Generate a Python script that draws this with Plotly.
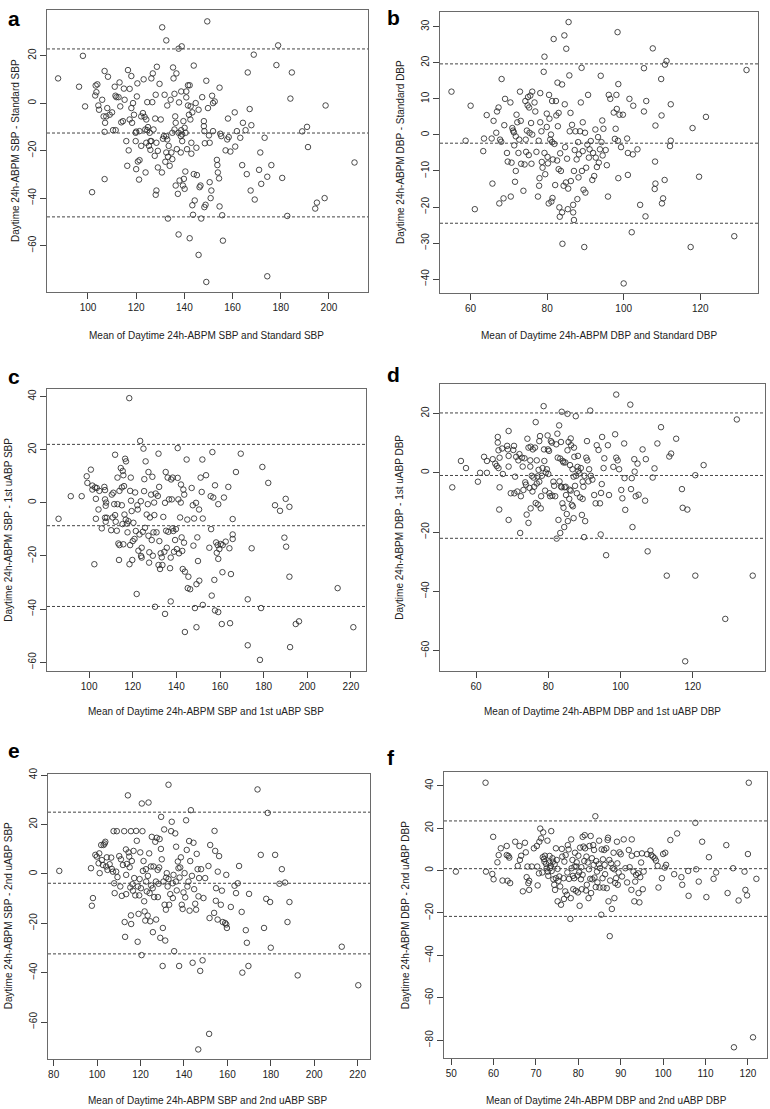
import plotly.graph_objects as go

W, H = 770, 1109

# ---------------- data ----------------
pts_a = [(87.6,10.4),(96.3,6.9),(97.9,19.9),(98.8,-1.4),(101.7,-37.5),(103.2,7.4),(103.9,7.9),(103.5,4.6),
(103.0,3.2),(104.3,-1),(104.6,-2.8),(105.9,1.4),(106.9,13.5),(108.3,11.1),(106.5,-5.6),(107.6,-5.6),(108,-2.1),
(107.1,-8.3),(106.9,-12.1),(106.9,-32),(109,-4.9),(110,-3.9),(111.1,6.9),(111.4,3.1),(111.8,2.5),(112.7,2.5),
(113.1,8.7),(113.4,-1.4),(110.4,-11.4),(111.5,-11.4),(113.8,-8.1),(114.5,-7.6),(114.9,6.1),(115.2,1.4),(115.9,-16),
(116.6,13.9),(116.9,-19.9),(117.3,6),(118,11.4),(116.3,-26.4),(117.3,-6.9),(118.3,-8.3),(118,-2.1),(118.7,0),
(119.1,-4.9),(119.8,-12.5),(119.8,-16),(120,-27.8),(120.3,2.8),(120.5,8.3),(120.7,-24.6),(121.2,-32.2),(121.4,-24),
(122.1,-5.6),(122.8,-4.2),(123.1,10),(123.5,-5.8),(123.8,-11.1),(124.2,-16.7),(123.9,-29.2),(124.6,0.4),(124.9,-10.1),
(125.3,-18),(125.6,-12.5),(125.9,-19.7),(126.3,-16),(126.7,0.4),(126.9,12.5),(127.2,-11.1),(127.7,-22.2),(127.9,-6.5),
(128.1,3.5),(128.4,-16.7),(128.4,-36.8),(128.1,-38.6),(128.6,15.3),(129,-20.1),(129,-27.1),(129.7,8.1),(130.2,-6.9),
(130.7,-29.2),(130.8,31.9),(131.1,-15),(131.5,-13.9),(131.8,3.5),(132.1,-24.7),(132.5,26.4),(132.5,-13.9),(132.9,-1),
(132.9,-15.3),(133.2,-48.6),(133.5,-18),(133.9,-26.4),(134.3,1.4),(134.6,-20.8),(135,-23.6),(135.3,15),(135.5,10.4),
(135.9,3.9),(136.2,-5.6),(136.4,-8.3),(136.4,-34.7),(136.7,12.5),(136.9,-19.4),(137.3,-38.2),(137.6,22.9),(137.6,-12.5),
(137.6,-55.3),(137.8,0.3),(138,-32.6),(138.5,-13.9),(138.5,-20.8),(138.7,4.9),(138.9,23.9),(139.1,-16),(139.4,-34.7),
(139.6,-7.6),(139.8,-31.9),(140.1,-36.1),(140.4,-28.8),(140.5,-12.5),(140.8,4.9),(140.8,2.4),(141.1,-19.4),(141.5,7.5),
(141.5,-1),(141.9,-4.9),(142.2,7.5),(142.2,-56.9),(142.5,-6.9),(142.9,-21.3),(142.9,-16.7),(143.3,-43),(143.6,-47),
(143.9,15.8),(143.9,-29.9),(144.3,-41),(144.7,0),(145,-18.8),(145.2,-30.3),(145.9,-63.9),(146.3,-35.4),(146.7,-34.7),
(147,-48.6),(147.4,2.5),(148.1,-7.6),(148.1,-9.7),(148.3,-11.8),(148.3,-43.8),(148.5,-16.9),(148.8,-42.8),(149.1,-75.3),
(149.1,9.4),(149.5,34.4),(149.8,-2.1),(150.2,-13.6),(150.5,-16.7),(150.5,-33.3),(150.9,-40),(151.2,-36.8),(151.5,3.1),
(151.9,0),(151.9,-11.8),(152.6,0.7),(153.5,-23.9),(153.7,-26.1),(153.9,-29.2),(154.4,-31.7),(154.6,6.5),(154.6,-43.5),
(154.9,-12.9),(155.3,-13.9),(155.7,-47.2),(156,-57.9),(157.1,-19.9),(157.8,-15.3),(158.1,-6.5),(158.4,-14.3),
(159.1,-20.4),(160.9,-3.9),(161.1,-18.3),(161.8,-11.8),(163.2,-14.6),(164,-26.1),(164.3,-8.3),(165.4,-11.4),
(165.9,-29.9),(166.3,12.9),(167.1,-2.5),(167.5,-36.8),(167.8,-9.3),(168.8,20.4),(169.2,-40.6),(171,-28.1),(171.5,-20.8),
(171.9,-34),(173.3,-14.6),(174.4,-31),(174.4,-72.9),(176.1,-26.1),(178.2,16),(178.9,24.3),(180.6,-31.5),(182.7,-47.5),
(184,1.9),(184.6,12.9),(188.9,-11.9),(190.9,-10),(191.3,-18.5),(194.3,-44.4),(195,-41.9),(198.2,-40),(198.6,-1),
(210.6,-25),(126.3,10.4),(124.6,-11.4),(121.4,-11.8),(120,-12),(122.1,-18),(124.2,-6.9),(125.9,-16),(135,-12.5),
(135.9,-11.1),(138.7,-11.4),(139.1,-13.2),(140.1,-10.4),(142.6,-1.4),(143.3,-3.9),(145.9,-2.8),(132.5,-20.8),(133.2,-22.6)]

pts_b = [(55,12),(58.7,-1.6),(60,8.1),(61.1,-20.6),(63.3,-4.5),(63.5,-1),(64.2,5.5),(65.5,-1),(65.7,-13.5),(66,3.9),
(66.7,0.6),(66.9,6.5),(67.3,7.6),(67.5,-19),(67.7,-1.3),(68,-1.9),(68.1,15.5),(68.6,-17.6),(68.8,2.7),(69,10),(69.5,-5),
(69.7,-7.4),(70.4,9),(70.5,-17.1),(70.7,-7.7),(70.9,1.9),(71.1,1.2),(71.3,0.7),(71.4,-2.9),(71.6,-13),(71.8,-0.4),
(71.8,-10),(72,5.6),(72.2,3.5),(72.5,-5),(72.7,-1.3),(72.9,12),(73.1,3.9),(73.2,-8),(73.8,-15.5),(74.1,-8.2),(74.3,9.4),
(74.4,-1.3),(74.5,-4.7),(74.7,1.2),(74.9,8.2),(75,10.5),(75.2,-5.6),(75.3,7.6),(75.4,0.6),(75.6,10.9),(75.8,3.3),
(75.9,-8),(76.1,0.1),(76.1,12),(76.7,9),(76.9,6.5),(77.2,-4.7),(77.6,-17.1),(77.8,-1.6),(77.9,-14.1),(78,-12),(78.2,3.5),
(78.2,11.6),(78.5,1),(78.6,-7.5),(78.8,-9.1),(79.1,17.5),(79.3,21.7),(79.3,-5),(79.5,-10.9),(79.9,5.9),(79.9,2.2),
(80.1,-6.1),(80.2,-7.9),(80.4,-19),(80.5,11.1),(80.6,4.5),(80.8,-1.3),(81,0.1),(81.1,-18.5),(81.3,-2),(81.3,9.4),
(81.4,-17.5),(81.5,-6.8),(81.7,26.6),(81.9,-2.5),(82.1,-13.9),(82.3,9.4),(82.4,5.4),(82.6,-7.1),(82.7,14.5),(82.8,2.4),
(83,-9.5),(83,6.1),(83.2,-20.1),(83.3,-22.7),(83.4,-5.1),(83.6,-10),(83.9,14),(83.9,-21.5),(84,-30.2),(84.3,-14.1),
(84.5,27.6),(84.6,8.5),(84.7,-3.4),(84.9,-13.2),(85,23.9),(85.2,-6.6),(85.4,-20.6),(85.5,-14.9),(85.6,31.3),(85.8,16.5),
(85.9,1),(86.1,6.1),(86.2,-12.8),(86.5,2.8),(86.8,-19.4),(86.8,-21.5),(87,-23.6),(87,-10),(87.2,-4.2),(87.4,1),
(87.7,-6.8),(87.9,-17.8),(88.1,-2),(88.2,-11.8),(88.3,-5.4),(88.6,1),(88.8,9),(89,18.6),(89.1,-10),(89.3,-4.5),
(89.3,3.5),(89.5,-15.2),(89.7,-31.1),(89.9,0.6),(90,-16),(90.2,-9.1),(90.5,-2.7),(90.7,11.1),(90.9,-6.3),(91.1,-4),
(91.4,-1.7),(91.8,-12.5),(92,-5),(92.3,-11.4),(92.6,1.5),(92.7,-6.3),(93,-8.9),(93.3,-0.6),(93.5,-7.7),(93.8,-4),
(94,16.4),(94.2,-2),(94.4,4),(94.5,-5.7),(94.7,1.7),(95.3,-4.2),(95.6,-8.4),(95.9,-17.1),(96.1,11.1),(96.5,10),
(97.4,6.2),(97.7,-1.1),(97.9,1.7),(98.1,11.1),(98.2,7.2),(98.4,28.5),(98.5,-1.6),(98.6,-12),(98.6,14.1),(98.9,5.6),
(99.3,-3.4),(99.8,5.6),(100,-41.2),(100.9,-1),(101.1,-5),(101.1,-11.1),(101.5,10),(102.1,-27),(102.4,-5.4),(102.5,8.1),
(103.6,-4),(104.3,-19.4),(105.3,6.5),(105.3,18.5),(105.7,-22.6),(105.9,9.4),(107.6,24),(108.1,-15),(108.2,-7.4),
(108.3,2.6),(108.3,-13.5),(109.8,15.5),(109.9,5.4),(110,-19),(110.3,-17.6),(110.7,-12.5),(110.8,19.5),(111.2,20.5),
(112.1,-3.1),(112.3,-1.6),(112.3,8.5),(117.5,-31.1),(118,1.9),(119.7,-11.6),(121.5,5),(128.9,-28.1),(132.1,18)]

pts_c = [(86,-6),(91.6,2.5),(96.6,2.5),(98.9,10),(99.2,7.5),(100.8,12.5),(101.5,6.5),(101.5,5),(102.4,-23.1),(102.7,5.8),
(103.1,1.5),(103.1,-6),(103.5,5.6),(104.3,-2.5),(104.7,4.5),(105.8,-9.6),(107,6),(107.3,1.3),(107.3,-5.6),(107.3,4.8),
(107.6,-1.1),(107.6,-7.1),(107.8,0.1),(108.1,-5.6),(110.1,-10.3),(110.4,3.1),(110.8,-5.5),(111.1,3.8),(111.5,-0.5),
(111.9,18.1),(111.9,-4.6),(112.2,-7.1),(112.7,-10.5),(113,-0.5),(113,9.5),(113.4,-15.3),(113.7,-21.5),(113.9,4.5),
(113.9,-15.9),(114.5,13.1),(115,-0.9),(115,5.8),(115.3,-8),(115.4,12),(115.7,-15.6),(115.7,10.4),(116,6.3),(116.2,-4.4),
(116.5,16.6),(116.9,15.6),(116.8,-6.3),(117.3,-7.8),(117.6,-11.1),(118,-6.9),(118.4,39.4),(118.5,-23.1),(118.8,4.5),
(118.8,-15.9),(119.1,9.5),(119.2,0.8),(119.5,-3.1),(119.8,-21.5),(120,-14.4),(120.3,-7.5),(120.8,-13.6),(121.1,3.9),
(121.4,-10.6),(121.8,-34.3),(122.1,-0.9),(122.3,-2.5),(122.6,-18),(123.1,-11.9),(123.4,23.3),(123.7,0.6),(123.8,-20),
(124.1,-16.9),(124.1,-20.6),(124.6,-10.9),(124.9,20.4),(125.2,4.4),(125.3,8.9),(125.6,-9.4),(125.9,15.6),(126.4,-4.4),
(126.9,-0.5),(127.2,11.6),(127.2,-12.4),(127.5,-22.5),(127.6,-18.6),(127.9,-5.5),(128.4,3.1),(128.7,-14),(129,9.8),
(129.2,-19.9),(129.5,-11.1),(129.8,0.1),(129.9,-4.6),(130.2,-39.1),(130.5,3.5),(130.9,-11.1),(131.5,2.6),(131.8,18.5),
(131.8,-23.4),(132.1,6),(132.2,-14.4),(132.5,-24.9),(132.8,-19),(133.3,-20.5),(133.6,-23.4),(134,-5.3),(134.5,-18.4),
(134.8,0),(134.8,-41.8),(135.1,11.6),(135.3,-10.5),(135.6,-16.9),(136,9.5),(136.3,-10.9),(136.6,1.3),(137.1,-24.6),
(137.4,-20.6),(137.4,-37.1),(137.6,8.8),(137.9,1.3),(138.2,-9.6),(138.3,9.5),(138.6,-10.6),(138.9,-18.4),(139.4,-14),
(139.8,-9.9),(140.2,-17.4),(140.6,20.6),(140.6,9.4),(140.9,1.3),(141.2,-19),(141.7,-5.5),(142,0.1),(142.1,6.9),
(142.4,-13),(142.7,-18.1),(142.9,-24.9),(143.2,5),(143.5,-15),(143.6,3.1),(143.9,-25.9),(143.9,-48.6),(144.7,16.3),
(145,-6.3),(145.2,-32.1),(145.5,-27.8),(146.3,-32.5),(147,5.6),(147.5,-0.9),(147.8,-16.1),(148.1,-5.9),(148.5,-39.6),
(149,0),(149.2,-46.8),(149.2,-30.6),(149.6,-13),(149.9,-21.9),(150.4,-2.5),(150.5,-29.3),(151.1,9.5),(151.6,4.1),
(151.9,16.3),(152.1,-5.9),(152.1,-38.4),(153.6,10.4),(155.1,-16.9),(155.7,2.5),(155.9,-9.9),(156.2,-34.9),(156.5,19.1),
(156.9,2),(157.4,-29),(157.7,6.6),(157.7,-40.5),(158.2,-14.9),(158.5,-18.8),(158.9,-15.9),(159.2,-0.5),(159.2,-21.1),
(159.2,-41.1),(159.7,-17.4),(160.3,-15.5),(160.8,-45.6),(161.1,-26.1),(161.2,-15.9),(161.8,2),(162.6,-14.6),(163.8,6),
(164.3,-17.1),(164.6,-45.3),(165,-26.8),(165.8,-11.9),(165.8,-6.1),(165.8,-13.6),(167.3,11.6),(169.5,18.5),(172.7,-36.3),
(172.7,-53.6),(174.5,-17.1),(178.8,-39.6),(178.3,-59.1),(179.4,13.5),(182.1,7.5),(185.2,-0.9),(187.5,-3),(189.5,-13.1),
(190.1,1.5),(190.3,-16.5),(191.8,-27.8),(191.8,-1.5),(192.1,-54.3),(194.7,-45.6),(196.2,-44.6),(213.9,-32.1),(221.1,-46.8)]

pts_d = [(53.4,-4.9),(55.8,4),(57.2,1.6),(60.5,-3),(61.1,0),(62.2,5.4),(63,4),(63,0),(64.6,4.6),(65.3,3.1),(65.7,2.3),
(66,12.1),(66,10.2),(66.2,7.6),(66.2,1.6),(66.4,-12.4),(66.5,5.1),(66.5,-4.9),(67.2,8.2),(67.4,-0.4),(68.6,9.1),(68.8,7.9),
(69,14.1),(69,5.7),(69,2.1),(69,-15.9),(69.6,-6.9),(70.3,7.7),(70.5,9.1),(70.6,-6.9),(70.8,-1.3),(71.1,5.4),(71.4,-6.3),
(71.7,4.2),(72,6.3),(72.2,-20.3),(72.4,-7.9),(72.7,5.1),(72.9,2.1),(73.1,-5.8),(73.4,4.9),(73.6,-3.2),(73.8,-4),(74,-14.1),
(74.2,11.5),(74.5,8.5),(74.5,-16.9),(74.8,-5.1),(75,4.2),(75,2.1),(75.1,-12),(75.1,8.8),(75.4,-1),(75.6,-6.3),(75.7,7.9),
(75.9,-1.6),(76.1,-4.7),(76.3,8.5),(76.5,17.1),(76.5,-10.2),(76.8,-3.6),(76.8,4.2),(77,-1.2),(77.1,-10.7),(77.3,1),
(77.5,-3),(77.5,10.7),(77.7,12.4),(77.9,-12),(78,-7.9),(78.2,-1),(78.4,1.6),(78.7,22.5),(78.8,7.9),(78.9,4),(79.1,-6),
(79.3,0.1),(79.6,1.2),(79.8,12.6),(79.9,7.9),(80,-0.4),(80.2,7.4),(80.3,-6.9),(80.5,-7.9),(80.7,10.7),(81,10.2),(81.1,-7.7),
(81.4,-3),(81.6,-4.4),(81.9,-7.9),(82.2,9.6),(82.3,-22.2),(82.5,13.2),(82.6,5.1),(82.8,-15.9),(83,16),(83.1,-2.9),(83.3,4.8),
(83.3,-20.3),(83.5,-4.6),(83.5,10.4),(83.7,20.6),(83.7,-4.9),(83.9,-10.3),(84,4),(84.2,-11.8),(84.2,3.5),(84.4,-18.3),
(84.5,-4.9),(84.7,3.5),(84.8,-4.7),(84.9,-7.5),(85.1,-13.9),(85.3,7.6),(85.3,19.9),(85.4,-16.3),(85.6,10.4),(85.8,-8.8),
(85.9,-5.7),(86,2.6),(86.2,11.6),(86.2,-6),(86.3,9.3),(86.5,-10.8),(86.7,1.2),(86.8,-11.3),(87,-15.3),(87,-1.3),(87.1,8.5),
(87.2,5.4),(87.4,-4.4),(87.6,19.1),(87.7,-1),(87.9,-6.9),(88.1,2),(88.2,5.7),(88.3,0.7),(88.6,-0.2),(88.8,-8.3),(89,1.6),
(89.3,-14.2),(89.5,-8.8),(89.5,-3),(89.7,-4.7),(89.9,-21.7),(90,-1),(90.2,-16.3),(90.5,5.1),(90.7,10.7),(90.8,4.2),
(91.1,-2.9),(91.3,1.2),(91.6,21),(91.8,-1),(92.2,-2.3),(92.7,-7.5),(93.1,-10.3),(93.4,9.3),(93.9,7.7),(94.3,-10.3),
(94.5,-20.8),(94.6,-6.8),(94.8,-3.8),(94.9,12.1),(95.3,1.6),(95.5,4.9),(96,-27.8),(96.5,9.3),(96.8,-7.5),(98,2),(98.5,13),
(98.8,26.4),(98.8,5.1),(99.2,4.2),(99.6,1.2),(100.2,-5.8),(100.5,-8.6),(101,9.9),(101.1,-1.8),(101.3,-12.5),(102.7,23),
(102.9,-5.5),(103.1,-1.8),(103.3,-18.3),(103.8,4.6),(103.9,0.4),(104.2,-7.9),(104.7,3.1),(105,-7.4),(106.1,7.9),(106.8,-9.4),
(107,4.6),(107.5,-26.5),(108.9,-1.6),(109.4,1.5),(110.2,9.9),(111.2,15.4),(112.8,-34.7),(113.5,5.5),(114,6.5),(115.4,11.5),
(117,-5.5),(117.2,-11.8),(118.5,-12.4),(120.7,-0.8),(120.7,-34.7),(123,2.6),(129,-49.3),(132.2,18),(136.6,-34.7),(117.9,-63.6)]

pts_e = [(82.6,1.2),(97.2,2.3),(97.6,-12.9),(98.1,-9.8),(99.2,7.7),(99.9,7),(100.7,4.3),(101,8.3),(101.2,0.3),(101.9,11.7),
(102.2,5.6),(102.7,3.6),(103,11.7),(103.5,12.3),(103.8,13),(104.2,3),(104.5,6.7),(104.8,1.6),(105.8,3.9),(106.5,6.6),
(106.8,2),(107.3,0.9),(107.6,17.3),(107.9,-3.8),(108.1,-7.8),(108.8,0.9),(109.1,17.3),(109.4,-1.3),(110.2,7.2),(110.7,-5.1),
(111,5.9),(111.4,-8.9),(111.9,3.6),(112.5,17.3),(112.7,-19.5),(112.9,-25.5),(113.3,9.9),(113.4,-0.4),(113.4,-8.2),(113.7,4),
(114.2,31.8),(114.5,8.7),(114.8,7),(115,2.7),(115.3,-5.5),(115.6,17.3),(115.6,-16.8),(115.7,-20.3),(116,5.2),(116.3,-4.2),
(116.5,-6.8),(116.8,9.3),(117.1,-1.7),(117.6,-8.7),(118,17.4),(118.3,13.4),(118.7,-27.5),(118.8,-5.1),(119.1,-16.2),
(119.4,-8.7),(119.6,-2.1),(119.9,8.7),(120.2,-5.8),(120.5,-32.9),(120.6,28.5),(120.9,17.3),(121.1,1.2),(121.4,5.2),
(121.7,-11.1),(121.9,-15.2),(122.2,-18.9),(122.5,1.9),(122.6,-3.1),(122.9,-7.1),(123.3,-16.9),(123.4,-0.8),(123.7,28.9),
(124,8.3),(124.2,-7.8),(124.5,-19.2),(124.8,3),(124.9,-4.7),(125.2,15),(125.6,-5.8),(125.7,-23.6),(126,3),(126.3,-9.4),
(126.8,13),(127.1,-3.1),(127.2,-18.5),(127.5,14.6),(127.9,1.6),(128,-9.4),(128.3,-4),(128.6,2.6),(128.8,14.1),(129.1,-25.9),
(129.4,10.1),(129.5,23.1),(129.8,5.9),(130.2,-37.3),(130.3,-21.9),(130.6,-3.1),(130.9,18),(131.1,-12.5),(131.4,-27),
(131.7,-14.5),(131.8,-1.5),(132.1,0.3),(132.5,-5.1),(132.9,36.1),(132.9,-2.1),(133.2,-12.5),(133.7,-8.2),(134.1,17.3),
(134.4,21.1),(134.8,-3.8),(134.9,-9.8),(135.2,-0.4),(135.5,-31.3),(136,16.4),(136.3,-3.1),(136.4,11),(136.7,-6.7),
(137.2,5),(137.5,2.3),(137.8,-37.3),(138,-1.5),(138.3,2.6),(138.6,6.7),(139,-12.5),(139.4,-14.2),(139.8,-7.5),(140.3,0.3),
(140.6,-9.5),(141,21.7),(141.3,9.7),(141.6,-5.1),(142.1,-3.1),(142.4,13.3),(142.6,-14.9),(142.9,5.2),(143.2,25.8),
(143.7,-0.8),(144,-36),(144.4,12.6),(144.7,-6.2),(145.2,-12.1),(145.6,-14.5),(145.9,8.1),(146.3,1.9),(146.6,-71.1),
(146.7,-9.1),(147,-1.7),(147.5,-39.3),(147.9,1.9),(148.6,-35),(149,-9.8),(149.8,-1.7),(151.3,3.2),(151.6,-64.8),
(152.1,11.7),(151.8,-17.9),(153.9,-15.8),(154.1,17.4),(154.4,9.3),(154.7,-10.9),(154.8,-5.8),(155.5,-18.5),(155.6,0.9),
(156.2,7.2),(157,-12.5),(157.5,-6.8),(157.9,-19.5),(159,-19.9),(159.5,-20.5),(159.8,-21.9),(159.5,-0.4),(161.6,-13.4),
(163.3,-4.8),(164,-7.8),(164.8,-3.8),(165.4,3.2),(166.6,-15.4),(166.9,-40),(168.5,-22.8),(169,-27.9),(169.7,-37.3),
(170,-8.1),(173.9,34.2),(175.4,7.7),(176.9,-21.9),(177.9,-10.1),(178.6,24.7),(179.7,-11.4),(180,-29.9),(182,7.7),(184,-4),
(185.1,1.9),(186.6,-3.5),(187.7,-19.5),(188.6,-11.4),(192.4,-41.1),(212.7,-29.5),(220.3,-45.1)]

pts_f = [(51.1,-0.5),(58.1,41.4),(58.2,-0.5),(59.7,-1.6),(59.9,15.9),(60,-4.1),(60.9,3.9),(61.2,7.3),(61.7,10.5),(62.1,-4.7),
(63.1,11.6),(63.1,7.3),(63.3,-4.8),(63.5,6.9),(63.7,6.1),(63.9,-5.9),(65.1,13.6),(65.7,2.2),(66.1,11.6),(66.2,5),(66.5,7),
(66.9,-9.8),(67.4,13.1),(67.6,8.6),(67.8,-3.1),(68,1.9),(68.2,-5.9),(68.4,-4.8),(68.4,-9.1),(69,1.9),(69.5,10.5),(70.2,11.6),
(70.3,1.9),(70.4,-7),(70.7,-1.3),(70.8,13.6),(71,19.8),(71.2,15.2),(71.5,-0.9),(71.6,6.3),(71.7,18),(71.9,5.5),(72,4.2),
(72.1,7),(72.4,3.1),(72.5,1.1),(72.7,14.1),(72.8,-0.5),(72.9,-2.5),(73.1,3.8),(73.2,6.9),(73.3,1.1),(73.5,2.2),(73.6,18.6),
(73.7,-0.2),(73.9,5.8),(74,4.2),(74.1,-4.1),(74.3,-6.7),(74.4,3),(74.5,-9.1),(74.7,10.5),(74.7,-3.6),(74.9,5),(75.1,0.8),
(75.1,-14.5),(75.3,-4.8),(75.5,-2.8),(75.7,-7.5),(75.9,-16.1),(76.1,10.2),(76.2,6.6),(76.5,-3.6),(76.6,-13.4),(76.7,4.2),
(76.9,-9.8),(77,7.3),(77.3,-11.4),(77.4,-0.9),(77.5,12),(77.7,10),(77.8,-3.9),(78.1,-22.8),(78.2,-13),(78.3,14.7),(78.4,1.1),
(78.6,5),(78.7,-2.5),(78.8,-8.8),(79,-3.6),(79.1,1.9),(79.2,8.4),(79.4,-9.5),(79.5,1.9),(79.6,3.9),(79.8,-2.3),(79.9,-10.3),
(80,7),(80.2,-0.8),(80.3,-16.6),(80.4,10.8),(80.6,-4.1),(80.7,1.6),(80.8,-8.8),(81,15.9),(81,-2),(81.2,11.3),(81.4,4.5),
(81.5,16.7),(81.6,10.5),(81.8,-9.4),(81.9,6.6),(82,-6.7),(82.2,3.8),(82.4,-13),(82.5,0.6),(82.6,11.6),(82.8,-3.9),(82.9,16.3),
(83,-10.6),(83.2,5.8),(83.3,-4.1),(83.5,12),(83.6,2.7),(83.7,9.7),(83.8,-3.3),(84,25.6),(84.1,-7.8),(84.2,4.5),(84.4,-0.5),
(84.5,-5.6),(84.8,3),(84.9,14.1),(85,-8),(85.1,1.1),(85.4,-20.8),(85.5,10),(85.7,-3.6),(85.8,5.3),(85.9,-8),(86.1,9.7),
(86.2,2.7),(86.3,-1.7),(86.6,10.5),(86.7,-8.3),(86.9,14.4),(87,15.5),(87.1,-14.5),(87.3,5),(87.4,-30.9),(87.5,-4.7),(87.7,3.4),
(87.9,-18.1),(88.1,1.1),(88.3,8.4),(88.5,-13),(88.5,0.6),(88.7,-5.9),(88.9,-3.6),(89.1,13.6),(89.2,3.4),(89.3,-6.7),(89.5,-0.9),
(89.7,8.6),(90,7.7),(90.3,-2.8),(90.7,14.7),(91.1,1.1),(91.5,-5.6),(91.9,9.7),(92.1,1.6),(92.5,-9.1),(92.6,7),(92.6,14.7),
(93,-0.5),(93.2,-14.5),(93.4,-5.2),(93.6,-2),(93.8,7.8),(94.1,-1.3),(94.2,-10.6),(94.4,-15),(94.6,-3.1),(94.8,3.8),(95,8.1),
(95.2,-8.8),(95.4,-0.5),(96.2,7.7),(97,9.4),(97.2,7.3),(97.6,6.6),(98,5.8),(98.3,4.7),(98.7,2.2),(98.9,-8),(99.7,-3.6),
(100,7.8),(100.4,1.4),(100.5,8.4),(100.7,2.7),(101.7,14.4),(102.6,-1.7),(103.3,17.5),(104.3,-3.1),(104.5,-6.7),(105.9,-0.2),
(106,-11.9),(107.6,22.5),(107.8,0.6),(108.4,-5.2),(109.2,13.6),(110.2,-12.5),(110.8,6.3),(111.9,-3.9),(112.5,-0.9),(114.9,12),
(115.2,-10.6),(116.5,1.1),(116.7,-83.3),(117.8,-14.1),(119.2,-0.5),(119.4,-9.1),(119.8,-11.7),(120,7.8),(120.2,41.4),
(121.2,-78.6),(122,-3.9)]

# mean difference and limits of agreement (upper, mean, lower)
lines_a = [22.8, -12.6, -47.9]
lines_b = [19.7, -2.3, -24.5]
lines_c = [22.0, -8.6, -39.0]
lines_d = [20.2, -0.9, -22.1]
lines_e = [25.0, -3.8, -32.4]
lines_f = [23.4, 0.9, -21.6]

panel_letters = ["a", "b", "c", "d", "e", "f"]
x_titles = ["Mean of Daytime 24h-ABPM SBP and Standard SBP",
            "Mean of Daytime 24h-ABPM DBP and Standard DBP",
            "Mean of Daytime 24h-ABPM SBP and 1st uABP SBP",
            "Mean of Daytime 24h-ABPM DBP and 1st uABP DBP",
            "Mean of Daytime 24h-ABPM SBP and 2nd uABP SBP",
            "Mean of Daytime 24h-ABPM DBP and 2nd uABP DBP"]
y_titles = ["Daytime 24h-ABPM SBP - Standard SBP",
            "Daytime 24h-ABPM DBP - Standard DBP",
            "Daytime 24h-ABPM SBP - 1st uABP SBP",
            "Daytime 24h-ABPM DBP - 1st uABP DBP",
            "Daytime 24h-ABPM SBP - 2nd uABP SBP",
            "Daytime 24h-ABPM DBP - 2nd uABP DBP"]
x_ticks = [list(range(100, 201, 20)), list(range(60, 121, 20)), list(range(100, 221, 20)),
           list(range(60, 121, 20)), list(range(80, 221, 20)), list(range(50, 121, 10))]
y_ticks = [list(range(-60, 21, 20)), list(range(-40, 31, 10)), list(range(-60, 41, 20)),
           list(range(-60, 21, 20)), list(range(-60, 41, 20)), list(range(-80, 41, 20))]

all_pts = [pts_a, pts_b, pts_c, pts_d, pts_e, pts_f]
all_lines = [lines_a, lines_b, lines_c, lines_d, lines_e, lines_f]

# ---------------- layout geometry (pixels) ----------------
boxes = [(47, 368, 3, 287), (440, 758, 5, 288),
         (47, 366, 384, 668), (440, 765, 379, 668),
         (48, 370, 772, 1059), (444, 767, 770, 1058)]
x_ranges = [(83, 216.2), (52, 135.1), (80.7, 226.9), (50, 140), (77.4, 225.7), (48.3, 124.5)]
y_ranges = [(-79.6, 39.2), (-43.9, 34.1), (-63.2, 43), (-66.8, 30.1), (-75.1, 40.4), (-88.5, 46.4)]
letter_pos = [(14, 12), (393, 11), (14, 372), (393, 370), (14, 748), (391, 755)]
xtitle_pos = [(207, 331), (599, 331), (206, 709), (602, 709), (208, 1100), (606, 1100)]
ytitle_pos = [(15, 145), (400, 146), (9, 526), (400, 523), (8, 915), (405, 914)]

FONT = "Liberation Sans, Arial, Helvetica, sans-serif"

def px(x):
    return x / W

def py(y):
    return 1 - y / H

fig = go.Figure()
layout = dict(width=W, height=H, margin=dict(l=0, r=0, t=0, b=0),
              paper_bgcolor="white", plot_bgcolor="white", showlegend=False,
              font=dict(family=FONT, size=10, color="#222"))
annotations = []
shapes = []

for i in range(6):
    n = "" if i == 0 else str(i + 1)
    xa, ya = "x" + n, "y" + n
    l, r, t, b = boxes[i]
    xs = [p[0] for p in all_pts[i]]
    ys = [p[1] for p in all_pts[i]]
    fig.add_trace(go.Scatter(x=xs, y=ys, mode="markers", xaxis=xa, yaxis=ya,
                             marker=dict(symbol="circle-open", size=5.5, color="#2a2a2a",
                                         line=dict(width=0.85, color="#2a2a2a")),
                             hoverinfo="skip"))
    common = dict(showgrid=False, zeroline=False, showline=True, mirror=True,
                  linecolor="#6a6a6a", linewidth=1, ticks="outside", ticklen=6,
                  tickwidth=1, tickcolor="#444", tickfont=dict(size=10, color="#222", family=FONT))
    layout["xaxis" + n] = dict(domain=[px(l), px(r)], range=list(x_ranges[i]),
                               anchor=ya, tickvals=x_ticks[i], **common)
    layout["yaxis" + n] = dict(domain=[py(b), py(t)], range=list(y_ranges[i]),
                               anchor=xa, tickvals=y_ticks[i], tickangle=-90, **common)
    for v in all_lines[i]:
        shapes.append(dict(type="line", xref=xa + " domain", yref=ya, x0=0, x1=1, y0=v, y1=v,
                           line=dict(color="#444", width=1, dash="3px,2px")))
    lx, ly = letter_pos[i]
    annotations.append(dict(text="<b>" + panel_letters[i] + "</b>", x=px(lx), y=py(ly),
                            xref="paper", yref="paper", showarrow=False,
                            font=dict(size=21, family=FONT, color="#000"),
                            xanchor="center", yanchor="middle"))
    tx, ty = xtitle_pos[i]
    annotations.append(dict(text=x_titles[i], x=px(tx), y=py(ty), xref="paper", yref="paper",
                            showarrow=False, font=dict(size=10, family=FONT, color="#222"),
                            xanchor="center", yanchor="middle"))
    vx, vy = ytitle_pos[i]
    annotations.append(dict(text=y_titles[i], x=px(vx), y=py(vy), xref="paper", yref="paper",
                            showarrow=False, textangle=-90,
                            font=dict(size=10, family=FONT, color="#222"),
                            xanchor="center", yanchor="middle"))

layout["annotations"] = annotations
layout["shapes"] = shapes
fig.update_layout(**layout)
fig.write_html("out.html", config={"displayModeBar": False, "staticPlot": True},
               post_script="document.body.style.margin='0px';document.body.style.padding='0px';"
                           "document.body.style.overflow='hidden';"
                           "document.documentElement.style.overflow='hidden';")
